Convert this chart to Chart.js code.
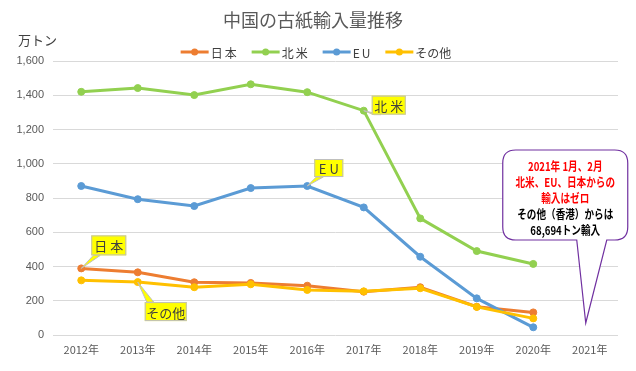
<!DOCTYPE html>
<html>
<head>
<meta charset="utf-8">
<script src="https://cdn.jsdelivr.net/npm/chart.js@4"></script>
<style>
  html, body { margin: 0; padding: 0; background: #fff; }
  #wrap { width: 636px; height: 371px; }
</style>
</head>
<body>
<div id="wrap"><canvas id="myChart"></canvas></div>
<script>
const years = ['2012年', '2013年', '2014年', '2015年', '2016年', '2017年', '2018年', '2019年', '2020年', '2021年']
const japan = [389, 366, 308, 304, 288, 253, 279, 165, 132, null]
const northAmerica = [1420, 1442, 1401, 1464, 1418, 1310, 681, 490, 415, null]
const eu = [870, 793, 753, 858, 870, 745, 457, 214, 45, null]
const others = [319, 309, 279, 296, 263, 255, 273, 164, 97, null]

const jpFont = '"Noto Sans CJK JP", sans-serif'

// legend, yellow callouts, speech bubble
const notes = {
    id: 'notes',
    afterDatasetsDraw(chart) {
        const ctx = chart.ctx
        ctx.save()

        // legend row (line + dot + label)
        ctx.font = '12px ' + jpFont
        ctx.textBaseline = 'middle'
        ctx.textAlign = 'left'
        const items = chart.data.datasets.map(d => {
            ctx.letterSpacing = d.label.length === 2 ? '2px' : '0px'
            return { label: d.label, color: d.borderColor, w: ctx.measureText(d.label).width }
        })
        const total = items.reduce((s, it) => s + 30 + it.w, 0) + 13 * (items.length - 1)
        let lx = chart.width / 2 - 2 - total / 2
        const ly = 52
        items.forEach(it => {
            ctx.strokeStyle = it.color
            ctx.lineWidth = 3
            ctx.beginPath()
            ctx.moveTo(lx, ly)
            ctx.lineTo(lx + 28, ly)
            ctx.stroke()
            ctx.fillStyle = it.color
            ctx.beginPath()
            ctx.arc(lx + 14, ly, 3.5, 0, Math.PI * 2)
            ctx.fill()
            ctx.fillStyle = '#404040'
            ctx.letterSpacing = it.label.length === 2 ? '2px' : '0px'
            ctx.fillText(it.label, lx + 30, ly + 1)
            lx += 30 + it.w + 13
        })
        ctx.letterSpacing = '0px'

        const callouts = [
            { ds: 1, i: 5, text: '北米', dx: 8, dy: -15, w: 34, h: 19 },
            { ds: 2, i: 4, text: 'EU', dx: 7, dy: -27, w: 29, h: 18 },
            { ds: 0, i: 0, text: '日本', dx: 10, dy: -33, w: 35, h: 20 },
            { ds: 3, i: 1, text: 'その他', dx: 7, dy: 20, w: 42, h: 19 }
        ]
        callouts.forEach(c => {
            const p = chart.getDatasetMeta(c.ds).data[c.i]
            const bx = p.x + c.dx, by = p.y + c.dy
            // pointer wedge
            const ey = c.dy < 0 ? by + c.h : by
            ctx.beginPath()
            ctx.moveTo(p.x, p.y)
            ctx.lineTo(bx + 2, ey)
            ctx.lineTo(bx + 9, ey)
            ctx.closePath()
            ctx.fillStyle = '#ffff00'
            ctx.fill()
            ctx.strokeStyle = '#bfbfbf'
            ctx.lineWidth = 1
            ctx.stroke()
            ctx.fillStyle = '#ffff00'
            ctx.fillRect(bx, by, c.w, c.h)
            ctx.strokeRect(bx + 0.5, by + 0.5, c.w - 1, c.h - 1)
            ctx.fillStyle = '#404040'
            ctx.font = '13px ' + jpFont
            ctx.letterSpacing = c.text === 'その他' ? '0px' : '3px'
            ctx.textAlign = 'center'
            ctx.textBaseline = 'middle'
            ctx.fillText(c.text, bx + c.w / 2 + (c.text === 'その他' ? 0 : 1.5), by + c.h / 2 + 1)
        })
        ctx.letterSpacing = '0px'

        // speech bubble pointing at 2021
        const xs = chart.scales.x, ys = chart.scales.y
        const tipX = xs.getPixelForValue(9) - 4
        const tipY = ys.getPixelForValue(70)
        const L = tipX - 83, R = tipX + 42, T = tipY - 173, B = tipY - 83, r = 13
        ctx.beginPath()
        ctx.moveTo(L + r, T)
        ctx.lineTo(R - r, T)
        ctx.quadraticCurveTo(R, T, R, T + r)
        ctx.lineTo(R, B - r)
        ctx.quadraticCurveTo(R, B, R - r, B)
        ctx.lineTo(tipX + 21, B)
        ctx.lineTo(tipX, tipY)
        ctx.lineTo(tipX - 9, B)
        ctx.lineTo(L + r, B)
        ctx.quadraticCurveTo(L, B, L, B - r)
        ctx.lineTo(L, T + r)
        ctx.quadraticCurveTo(L, T, L + r, T)
        ctx.closePath()
        ctx.fillStyle = '#ffffff'
        ctx.fill()
        ctx.strokeStyle = '#7030a0'
        ctx.lineWidth = 1.2
        ctx.stroke()

        const lines = [
            ['2021年 1月、2月', '#ff0000'],
            ['北米、EU、日本からの', '#ff0000'],
            ['輸入はゼロ', '#ff0000'],
            ['その他（香港）からは', '#000000'],
            ['68,694トン輸入', '#000000']
        ]
        ctx.font = 'bold 12px ' + jpFont
        ctx.textAlign = 'center'
        ctx.textBaseline = 'middle'
        const cx = (L + R) / 2
        lines.forEach((l, k) => {
            ctx.save()
            ctx.translate(cx, T + 16 + k * 16)
            ctx.scale(0.8, 1)
            ctx.fillStyle = l[1]
            ctx.fillText(l[0], 0, 0)
            ctx.restore()
        })

        // unit label
        ctx.fillStyle = '#404040'
        ctx.font = '13px ' + jpFont
        ctx.textAlign = 'left'
        ctx.fillText('万トン', 18, 40)
        ctx.restore()
    }
}

const ctx = document.getElementById('myChart')

function series(label, data, color, order) {
    return {
        label: label,
        data: data,
        borderColor: color,
        backgroundColor: color,
        borderWidth: 3,
        pointRadius: 3.5,
        pointBorderWidth: 1,
        pointHoverRadius: 3.5,
        tension: 0,
        order: order
    }
}

new Chart(ctx, {
    type: 'line',
    data: {
        labels: years,
        datasets: [
            series('日本', japan, '#ed7d31', 3),
            series('北米', northAmerica, '#92d050', 2),
            series('EU', eu, '#5b9bd5', 1),
            series('その他', others, '#ffc000', 0)
        ]
    },
    options: {
        responsive: true,
        maintainAspectRatio: false,
        animation: false,
        layout: { padding: { left: 8, right: 18, top: 0, bottom: 0 } },
        plugins: {
            title: {
                display: true,
                text: '中国の古紙輸入量推移',
                color: '#595959',
                font: { family: jpFont, size: 18, weight: 'normal' },
                padding: { top: 9, bottom: 30.4 }
            },
            legend: { display: false },
            tooltip: { enabled: false }
        },
        scales: {
            x: {
                offset: true,
                grid: { display: false, drawTicks: false },
                border: { display: false },
                ticks: { color: '#595959', font: { family: jpFont, size: 11 }, padding: 8, maxRotation: 0 },
                afterFit(axis) {
                    axis.height = 36
                    axis.paddingLeft = 0
                    axis.paddingRight = 0
                }
            },
            y: {
                min: 0,
                max: 1600,
                ticks: {
                    stepSize: 200,
                    color: '#595959',
                    font: { family: '"Liberation Sans", sans-serif', size: 11 },
                    padding: 9,
                    callback: (v) => v.toLocaleString('en-US')
                },
                grid: { color: '#d9d9d9', drawTicks: false },
                border: { display: false },
                afterFit(axis) {
                    axis.width = 45
                    axis.paddingTop = 0
                    axis.paddingBottom = 0
                }
            }
        }
    },
    plugins: [notes]
})
</script>
</body>
</html>
